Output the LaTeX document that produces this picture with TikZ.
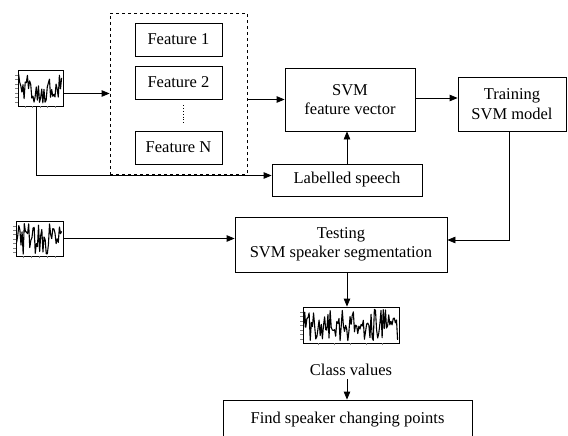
\documentclass[tikz,border=0pt]{standalone}
\usepackage{fontspec}
\setmainfont{Liberation Serif}
\usetikzlibrary{arrows.meta}
\tikzset{
  box/.style={draw, thin, line width=0.8pt, align=center, inner sep=0pt},
  wave/.style={draw, line width=0.8pt, inner sep=0pt},
  flow/.style={line width=0.8pt, -{Triangle[length=8pt,width=6.5pt]}},
}
% noisy trace inside a waveform node: name, width, height, seed
\newcommand{\trace}[4]{%
  \pgfmathsetseed{#4}
  \begin{scope}[shift={(#1.south west)}, x=1pt, y=1pt]
    \foreach \t in {1,...,7}
      \draw[line width=0.3pt, gray] (-2.5,{\t*#3/8}) -- (0,{\t*#3/8});
    \foreach \t in {1,...,5}
      \draw[line width=0.3pt, gray] ({\t*#2/6},-2) -- ({\t*#2/6},0);
    \draw[line width=1.1pt, line join=round]
      plot[domain=1:{#2-1}, samples={int(#2*0.9)}] (\x,{2+(#3-4)*rnd});
  \end{scope}}

\begin{document}
\begin{tikzpicture}[x=1pt, y=-1pt, font=\fontsize{16.5}{19.5}\selectfont]
  \clip (0,0) rectangle (568,436);

  % signals
  \node[wave, minimum width=45, minimum height=36] (wave1) at (40.5,88) {};
  \node[wave, minimum width=47, minimum height=35] (wave2) at (39.5,238.5) {};
  \node[wave, minimum width=96, minimum height=36] (wave3) at (351,325) {};
  \trace{wave1}{45}{36}{11}
  \trace{wave2}{47}{35}{23}
  \trace{wave3}{96}{36}{37}

  % feature extraction
  \node[draw, dashed, line width=0.8pt, minimum width=137, minimum height=161] (feats) at (178.5,93.5) {};
  \node[box, minimum width=87, minimum height=33] (feat1) at (178.5,39.5) {Feature 1};
  \node[box, minimum width=87, minimum height=33] (feat2) at (178.5,82.5) {Feature 2};
  \node[box, minimum width=87, minimum height=33] (featN) at (178.5,147.5) {Feature N};
  \draw[dotted, line width=0.8pt] ([xshift=4.5pt, yshift=-6pt]feat2.south) -- ([xshift=4.5pt, yshift=6pt]featN.north);

  % training
  \node[box, minimum width=130, minimum height=63] (svm) at (350,99.5) {SVM\\feature vector};
  \node[box, minimum width=108, minimum height=54] (train) at (512,104) {Training\\SVM model};
  \node[box, minimum width=150, minimum height=32] (label) at (347,180) {Labelled speech};

  % testing
  \node[box, minimum width=212, minimum height=55] (test) at (341,244.5) {Testing\\SVM speaker segmentation};
  \node (class) at (351,370) {Class values};
  \node[box, minimum width=249, minimum height=40] (find) at (347.5,420) {Find speaker changing points};

  % connectors
  \draw[flow] (wave1.east |- feats.west) -- (feats.west);
  \draw[flow] (feats.east |- svm.west) -- (svm.west);
  \draw[flow] ([yshift=1.5pt]svm.east) -- ([yshift=1.5pt]svm.east -| train.west);
  \draw[flow] ([xshift=-4.5pt]wave1.south) |- ([yshift=4.5pt]label.west);
  \draw[flow] (label.north) -- (label.north |- svm.south);
  \draw[flow] ([xshift=-3pt]train.south) |- ([yshift=4.5pt]test.east);
  \draw[flow] (wave2.east) -- (wave2.east -| test.west);
  \draw[flow] ([xshift=6pt]test.south) -- ([xshift=-4pt]wave3.north);
  \draw[flow] ([xshift=-4pt]class.south) -- ([xshift=-4pt]class.south |- find.north);
\end{tikzpicture}
\end{document}
